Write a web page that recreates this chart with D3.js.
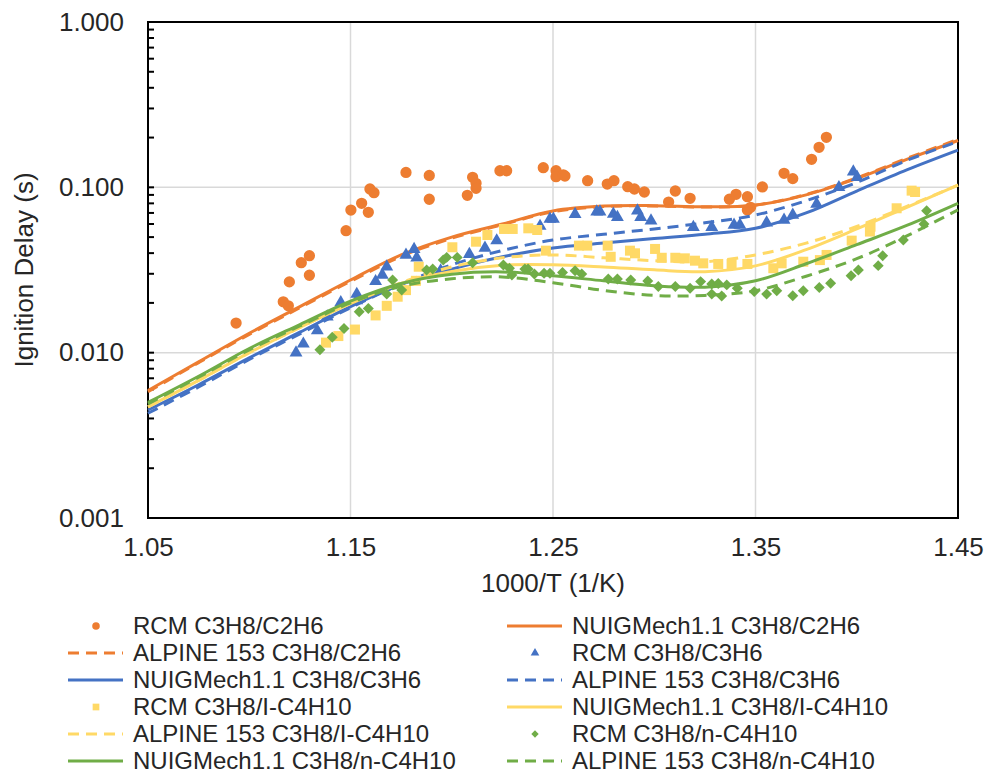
<!DOCTYPE html>
<html>
<head>
<meta charset="utf-8">
<script src="https://cdn.jsdelivr.net/npm/d3@7"></script>
<style>
  body { margin: 0; background: #fff; }
  text { font-family: "Liberation Sans", Arial, sans-serif; fill: #262626; }
</style>
</head>
<body>
<div id="chart"></div>
<script>
// RCM measurements: [1000/T, ignition delay (s)]
const rcmC2H6 = [
  [1.0935,0.0151],[1.1168,0.0203],[1.1193,0.0192],[1.1198,0.0268],[1.1257,0.0350],[1.1297,0.0386],
  [1.1297,0.0294],[1.1478,0.0547],[1.1502,0.0729],[1.1555,0.0800],[1.1588,0.0706],[1.1596,0.0977],
  [1.1616,0.0928],[1.1774,0.123],[1.1889,0.118],[1.1889,0.0847],[1.2077,0.0895],[1.2103,0.115],
  [1.2120,0.1057],[1.2120,0.0987],[1.2238,0.126],[1.2271,0.126],[1.2452,0.1315],[1.2515,0.126],
  [1.2515,0.116],[1.2551,0.119],[1.2559,0.117],[1.2671,0.1097],[1.2768,0.1047],[1.2801,0.1097],
  [1.2869,0.1009],[1.2902,0.0977],[1.2951,0.0937],[1.3071,0.0815],[1.3104,0.0950],[1.3177,0.0858],
  [1.3371,0.0847],[1.3404,0.0907],[1.3460,0.0878],[1.3460,0.0729],[1.3476,0.0757],[1.3534,0.1005],
  [1.3641,0.1216],[1.3684,0.1129],[1.3777,0.1477],[1.3814,0.1746],[1.3850,0.2007]
];
const rcmC3H6 = [
  [1.1231,0.0100],[1.1267,0.0113],[1.1336,0.0136],[1.1385,0.0165],[1.1452,0.0201],[1.1531,0.0226],
  [1.1531,0.0207],[1.1624,0.0270],[1.1657,0.0295],[1.1679,0.0331],[1.1774,0.0390],[1.1814,0.0422],
  [1.1827,0.0375],[1.1945,0.0313],[1.2087,0.0394],[1.2164,0.0430],[1.2222,0.0476],[1.2436,0.0583],
  [1.2485,0.0643],[1.2502,0.0643],[1.2609,0.0687],[1.2716,0.0712],[1.2732,0.0712],[1.2798,0.0690],
  [1.2818,0.0659],[1.2917,0.0722],[1.2933,0.0659],[1.2984,0.0628],[1.3193,0.0573],[1.3284,0.0573],
  [1.3394,0.0592],[1.3423,0.0592],[1.3555,0.0611],[1.3641,0.0634],[1.3684,0.0680],[1.3802,0.0793],
  [1.3912,0.1000],[1.3983,0.1243],[1.4002,0.1150]
];
const rcmIC4H10 = [
  [1.1379,0.0115],[1.1440,0.0126],[1.1522,0.0138],[1.1624,0.0168],[1.1679,0.0192],[1.1733,0.0218],
  [1.1774,0.0239],[1.1823,0.0272],[1.1837,0.0331],[1.2003,0.0434],[1.2120,0.0469],[1.2176,0.0515],
  [1.2258,0.0560],[1.2301,0.0560],[1.2378,0.0565],[1.2422,0.0552],[1.2465,0.0414],[1.2628,0.0444],
  [1.2669,0.0444],[1.2770,0.0444],[1.2785,0.0380],[1.2880,0.0414],[1.2905,0.0399],[1.3004,0.0424],
  [1.3037,0.0375],[1.3104,0.0375],[1.3151,0.0372],[1.3201,0.0360],[1.3242,0.0347],[1.3316,0.0344],
  [1.3382,0.0344],[1.3460,0.0344],[1.3588,0.0324],[1.3629,0.0347],[1.3736,0.0355],[1.3818,0.0363],
  [1.3851,0.0390],[1.3975,0.0476],[1.4065,0.0540],[1.4068,0.0578],[1.4197,0.0747],[1.4271,0.0955],
  [1.4288,0.0937]
];
const rcmNC4H10 = [
  [1.1349,0.0104],[1.1410,0.0124],[1.1468,0.0140],[1.1543,0.0177],[1.1588,0.0185],[1.1679,0.0226],
  [1.1708,0.0275],[1.1753,0.0239],[1.1876,0.0316],[1.1906,0.0321],[1.1958,0.0363],[1.1975,0.0377],
  [1.2027,0.0377],[1.2103,0.0350],[1.2255,0.0339],[1.2285,0.0324],[1.2297,0.0295],[1.2361,0.0321],
  [1.2377,0.0321],[1.2408,0.0299],[1.2456,0.0302],[1.2485,0.0302],[1.2547,0.0305],[1.2609,0.0313],
  [1.2642,0.0299],[1.2773,0.0279],[1.2818,0.0279],[1.2884,0.0275],[1.2968,0.0271],[1.3020,0.0251],
  [1.3104,0.0251],[1.3177,0.0245],[1.3229,0.0269],[1.3284,0.0260],[1.3316,0.0262],[1.3358,0.0257],
  [1.3284,0.0226],[1.3333,0.0220],[1.3410,0.0245],[1.3494,0.0234],[1.3555,0.0226],[1.3605,0.0237],
  [1.3684,0.0221],[1.3736,0.0237],[1.3815,0.0248],[1.3871,0.0263],[1.3972,0.0292],[1.4008,0.0316],
  [1.4106,0.0336],[1.4128,0.0386],[1.4230,0.0480],[1.4332,0.0600],[1.4345,0.0722]
];

// simulations, sampled on simT
const simT = [1.05,1.075,1.10,1.125,1.15,1.175,1.20,1.225,1.25,1.275,1.30,1.325,1.35,1.375,1.40,1.425,1.45];
const nuigC2H6     = [.0059,.0088,.0131,.0190,.0275,.0390,.0500,.0600,.0720,.0770,.0775,.0762,.0780,.0900,.1130,.1480,.1920];
const alpineC2H6   = [.0058,.0087,.0129,.0187,.0270,.0382,.0492,.0594,.0712,.0765,.0772,.0760,.0782,.0905,.1140,.1500,.1950];
const nuigC3H6     = [.0045,.0064,.0093,.0133,.0190,.0258,.0320,.0380,.0430,.0460,.0490,.0520,.0565,.0700,.0950,.1280,.1680];
const alpineC3H6   = [.0043,.0062,.0091,.0130,.0187,.0260,.0340,.0415,.0480,.0520,.0560,.0610,.0680,.0830,.1070,.1460,.1890];
const nuigIC4H10   = [.0047,.0068,.0100,.0142,.0198,.0262,.0310,.0338,.0340,.0330,.0317,.0309,.0335,.0420,.0560,.0760,.1030];
const alpineIC4H10 = [.0047,.0068,.0100,.0142,.0200,.0265,.0330,.0375,.0390,.0375,.0360,.0355,.0390,.0460,.0580,.0770,.1030];
const nuigNC4H10   = [.0050,.0072,.0106,.0148,.0205,.0262,.0298,.0308,.0292,.0272,.0254,.0249,.0272,.0345,.0450,.0590,.0800];
const alpineNC4H10 = [.0049,.0071,.0104,.0145,.0200,.0252,.0280,.0287,.0265,.0238,.0222,.0222,.0237,.0290,.0370,.0510,.0730];

const xTicks = [1.05, 1.15, 1.25, 1.35, 1.45];
const yTicks = [0.001, 0.01, 0.1, 1];

const seriesNames = [
  'RCM C3H8/C2H6', 'NUIGMech1.1 C3H8/C2H6', 'ALPINE 153 C3H8/C2H6',
  'RCM C3H8/C3H6', 'NUIGMech1.1 C3H8/C3H6', 'ALPINE 153 C3H8/C3H6',
  'RCM C3H8/I-C4H10', 'NUIGMech1.1 C3H8/I-C4H10', 'ALPINE 153 C3H8/I-C4H10',
  'RCM C3H8/n-C4H10', 'NUIGMech1.1 C3H8/n-C4H10', 'ALPINE 153 C3H8/n-C4H10'
];

// ---------------------------------------------------------------
const ORANGE = '#ED7D31', BLUE = '#4472C4', YELLOW = '#FFD966', GREEN = '#70AD47';

const sim = vals => simT.map((t, i) => [t, vals[i]]);

const series = [
  { pts: rcmC2H6,            kind: 'circle',   color: ORANGE },
  { pts: sim(nuigC2H6),      kind: 'solid',    color: ORANGE },
  { pts: sim(alpineC2H6),    kind: 'dash',     color: ORANGE },
  { pts: rcmC3H6,            kind: 'triangle', color: BLUE },
  { pts: sim(nuigC3H6),      kind: 'solid',    color: BLUE },
  { pts: sim(alpineC3H6),    kind: 'dash',     color: BLUE },
  { pts: rcmIC4H10,          kind: 'square',   color: YELLOW },
  { pts: sim(nuigIC4H10),    kind: 'solid',    color: YELLOW },
  { pts: sim(alpineIC4H10),  kind: 'dash',     color: YELLOW },
  { pts: rcmNC4H10,          kind: 'diamond',  color: GREEN },
  { pts: sim(nuigNC4H10),    kind: 'solid',    color: GREEN },
  { pts: sim(alpineNC4H10),  kind: 'dash',     color: GREEN }
].map((s, i) => ({ ...s, name: seriesNames[i] }));

const width = 987, height = 775;
const margin = { top: 22, right: 29, bottom: 257, left: 148 };
const w = width - margin.left - margin.right,
      h = height - margin.top - margin.bottom;
const fontSize = '26px';

const svg = d3.select('#chart').append('svg')
    .attr('width', width)
    .attr('height', height);

const g = svg.append('g')
    .attr('transform', `translate(${margin.left}, ${margin.top})`);

const xScale = d3.scaleLinear().domain([1.05, 1.45]).range([0, w]);
const yScale = d3.scaleLog().domain([0.001, 1]).range([h, 0]);

// gridlines
g.append('g').selectAll('line')
  .data(xTicks.slice(1, -1))
  .join('line')
    .attr('x1', d => xScale(d)).attr('x2', d => xScale(d))
    .attr('y1', 0).attr('y2', h)
    .attr('stroke', '#D9D9D9').attr('stroke-width', 1.5);

g.append('g').selectAll('line')
  .data(yTicks.slice(1, -1))
  .join('line')
    .attr('x1', 0).attr('x2', w)
    .attr('y1', d => yScale(d)).attr('y2', d => yScale(d))
    .attr('stroke', '#D9D9D9').attr('stroke-width', 1.5);

// axes (labels only, Excel style)
const xAxis = g.append('g')
    .attr('transform', `translate(0, ${h})`)
    .call(d3.axisBottom(xScale).tickValues(xTicks).tickFormat(d3.format('.2f')).tickSize(0).tickPadding(20));

const yAxis = g.append('g')
    .call(d3.axisLeft(yScale).tickValues(yTicks).tickFormat(d3.format('.3f')).tickSize(0).tickPadding(24));

[xAxis, yAxis].forEach(ax => {
  ax.select('.domain').remove();
  ax.selectAll('text').style('font-size', fontSize).attr('fill', '#262626');
});

// minor ticks on log axis (inside)
const minor = [];
[0.001, 0.01, 0.1].forEach(dec => d3.range(1, 10).forEach(k => minor.push(dec * k)));
minor.push(1);
g.append('g').selectAll('line')
  .data(minor)
  .join('line')
    .attr('x1', 0).attr('x2', 6)
    .attr('y1', d => yScale(d)).attr('y2', d => yScale(d))
    .attr('stroke', '#000').attr('stroke-width', 2);

// plot border
g.append('rect')
    .attr('width', w).attr('height', h)
    .attr('fill', 'none').attr('stroke', '#000').attr('stroke-width', 2);

// marks
const line = d3.line()
    .x(d => xScale(d[0]))
    .y(d => yScale(d[1]))
    .curve(d3.curveCatmullRom.alpha(0.5));

const symbolPath = (kind, scale) => {
  if (kind === 'circle')   return d3.symbol(d3.symbolCircle, 100 * scale)();
  if (kind === 'triangle') return d3.symbol(d3.symbolTriangle, 72 * scale)();
  if (kind === 'square')   return d3.symbol(d3.symbolSquare, 100 * scale)();
  return d3.symbol(d3.symbolSquare, 60 * scale)();
};

const plot = g.append('g');
series.forEach(s => {
  if (s.kind === 'solid' || s.kind === 'dash') {
    plot.append('path')
        .datum(s.pts)
        .attr('d', line)
        .attr('fill', 'none')
        .attr('stroke', s.color)
        .attr('stroke-width', 3)
        .attr('stroke-dasharray', s.kind === 'dash' ? '11,7' : null);
  } else {
    plot.append('g').selectAll('path')
      .data(s.pts)
      .join('path')
        .attr('d', symbolPath(s.kind, 1))
        .attr('transform', d => `translate(${xScale(d[0])}, ${yScale(d[1])})` + (s.kind === 'diamond' ? ' rotate(45)' : ''))
        .attr('fill', s.color);
  }
});

// axis titles
svg.append('text')
    .attr('x', margin.left + w / 2)
    .attr('y', 592)
    .attr('text-anchor', 'middle')
    .style('font-size', fontSize)
    .text('1000/T (1/K)');

svg.append('text')
    .attr('transform', `translate(33, ${margin.top + h / 2}) rotate(-90)`)
    .attr('text-anchor', 'middle')
    .style('font-size', fontSize)
    .text('Ignition Delay (s)');

// legend, two columns
const legend = svg.append('g');
series.forEach((s, i) => {
  const col = i % 2, row = Math.floor(i / 2);
  const lx = col === 0 ? 68 : 507;
  const ly = 626 + row * 27;
  const item = legend.append('g').attr('transform', `translate(${lx}, ${ly})`);

  if (s.kind === 'solid' || s.kind === 'dash') {
    item.append('line')
        .attr('x1', 0).attr('x2', 55)
        .attr('stroke', s.color).attr('stroke-width', 3)
        .attr('stroke-dasharray', s.kind === 'dash' ? '11,7' : null);
  } else {
    item.append('path')
        .attr('d', symbolPath(s.kind, 0.45))
        .attr('transform', 'translate(28, 0)' + (s.kind === 'diamond' ? ' rotate(45)' : ''))
        .attr('fill', s.color);
  }

  item.append('text')
      .attr('x', 65)
      .attr('dy', '0.35em')
      .style('font-size', '24px')
      .text(s.name);
});
</script>
</body>
</html>
